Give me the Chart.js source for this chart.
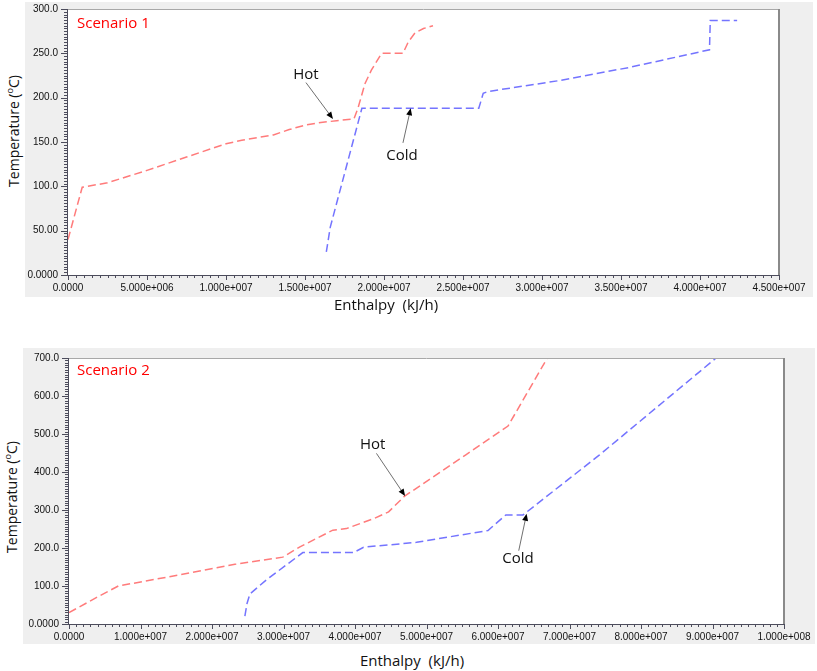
<!DOCTYPE html>
<html>
<head>
<meta charset="utf-8">
<script src="https://cdn.jsdelivr.net/npm/chart.js@4.4.1/dist/chart.umd.min.js"></script>
<style>
  body { margin: 0; background: #fff; }
  #wrap { position: relative; width: 817px; height: 671px; overflow: hidden; font-family: "Open Sans", sans-serif; }
  canvas { position: absolute; background: #efefef; }
  .xt { position: absolute; font-size: 15px; line-height: 20px; color: #111; white-space: pre; transform: translateX(-50%); }
  .yt { position: absolute; font-size: 14px; line-height: 20px; color: #111; white-space: nowrap; transform: translate(-50%, -50%) rotate(-90deg); }
  .yt sup { font-size: 9px; }
</style>
</head>
<body>
<div id="wrap">
  <canvas id="c1" width="788" height="295" style="left:25px;top:2px;width:788px;height:295px"></canvas>
  <canvas id="c2" width="792" height="296" style="left:23px;top:348px;width:792px;height:296px"></canvas>
  <div class="xt" style="left:386px;top:294px">Enthalpy  (kJ/h)</div>
  <div class="xt" style="left:412px;top:650px">Enthalpy  (kJ/h)</div>
  <div class="yt" style="left:12px;top:131px">Temperature (<sup>o</sup>C)</div>
  <div class="yt" style="left:10px;top:497px">Temperature (<sup>o</sup>C)</div>
</div>
<script>
"use strict";

// Scenario 1 - composite curves
const hot1X = [0, 0.9e6, 2.5e6, 5e6, 7.5e6, 1.0e7, 1.1e7, 1.3e7, 1.4e7, 1.5e7, 1.6e7, 1.7e7, 1.81e7, 1.835e7, 1.88e7, 1.92e7, 1.985e7, 2.12e7, 2.154e7, 2.196e7, 2.25e7, 2.31e7];
const hot1Y = [40, 99, 104, 118, 133, 148, 152, 158, 164, 169, 172, 174, 176, 188, 216, 231, 250, 250, 263, 273, 278, 281];
const cold1X = [1.635e7, 1.66e7, 1.86e7, 2.6e7, 2.628e7, 2.66e7, 3.1e7, 3.55e7, 4.06e7, 4.065e7, 4.235e7];
const cold1Y = [26, 54, 188, 188, 205, 207, 219, 234, 254, 287, 287];

// Scenario 2 - composite curves
const hot2X = [0, 3.87e6, 6.9e6, 1.36e7, 2.32e7, 2.99e7, 3.23e7, 3.69e7, 3.88e7, 4.27e7, 4.47e7, 4.69e7, 5.55e7, 6.14e7, 6.69e7];
const hot2Y = [30, 70, 100, 123, 157, 176, 203, 247, 251, 278, 295, 336, 445, 521, 700];
const cold2X = [2.46e7, 2.49e7, 2.53e7, 2.76e7, 3.27e7, 3.98e7, 4.12e7, 4.86e7, 5.86e7, 6.11e7, 6.35e7, 7.42e7, 9.05e7];
const cold2Y = [21, 54, 79, 116, 188, 188, 202, 215, 246, 287, 287, 445, 700];

// axis ticks
const xTicks1 = [0, 5e6, 1e7, 1.5e7, 2e7, 2.5e7, 3e7, 3.5e7, 4e7, 4.5e7];
const xTickLabels1 = ["0.0000", "5.000e+006", "1.000e+007", "1.500e+007", "2.000e+007", "2.500e+007", "3.000e+007", "3.500e+007", "4.000e+007", "4.500e+007"];
const yTicks1 = [0, 50, 100, 150, 200, 250, 300];
const yTickLabels1 = ["0.0000", "50.00", "100.0", "150.0", "200.0", "250.0", "300.0"];
const xTicks2 = [0, 1e7, 2e7, 3e7, 4e7, 5e7, 6e7, 7e7, 8e7, 9e7, 1e8];
const xTickLabels2 = ["0.0000", "1.000e+007", "2.000e+007", "3.000e+007", "4.000e+007", "5.000e+007", "6.000e+007", "7.000e+007", "8.000e+007", "9.000e+007", "1.000e+008"];
const yTicks2 = [0, 100, 200, 300, 400, 500, 600, 700];
const yTickLabels2 = ["0.0000", "100.0", "200.0", "300.0", "400.0", "500.0", "600.0", "700.0"];

// labels with arrows (data coordinates: text, arrow start, arrow head)
const notes1 = [
  { text: "Hot", tx: 1.506e7, ty: 226, fx: 1.506e7, fy: 217, hx: 1.677e7, hy: 176 },
  { text: "Cold", tx: 2.114e7, ty: 135, fx: 2.12e7, fy: 149, hx: 2.169e7, hy: 188 }
];
const notes2 = [
  { text: "Hot", tx: 4.248e7, ty: 473, fx: 4.30e7, fy: 449, hx: 4.70e7, hy: 337 },
  { text: "Cold", tx: 6.28e7, ty: 171, fx: 6.29e7, fy: 193, hx: 6.40e7, hy: 290 }
];

const HOT = "#ff7b7b";
const COLD = "#7474ff";

function pts(xs, ys) {
  return xs.map((x, i) => ({ x: x, y: ys[i] }));
}

// white plot area, frame, major/minor ticks, labels and arrows
const framePlugin = {
  id: "frame",
  beforeDraw(chart) {
    const a = chart.chartArea;
    const ctx = chart.ctx;
    ctx.save();
    ctx.fillStyle = "#fff";
    ctx.fillRect(a.left, a.top, a.right - a.left, a.bottom - a.top);
    ctx.restore();
  },
  afterDatasetsDraw(chart, args, o) {
    const a = chart.chartArea;
    const ctx = chart.ctx;
    const xs = chart.scales.x;
    const ys = chart.scales.y;
    ctx.save();

    // frame
    ctx.strokeStyle = "#a8a8a8";
    ctx.lineWidth = 1;
    ctx.beginPath();
    ctx.moveTo(a.left, a.top + 0.5);
    ctx.lineTo(a.right, a.top + 0.5);
    ctx.stroke();
    ctx.strokeStyle = "#8a8a8a";
    ctx.lineWidth = 2;
    ctx.beginPath();
    ctx.moveTo(a.right, a.top);
    ctx.lineTo(a.right, a.bottom);
    ctx.stroke();
    ctx.strokeStyle = "#4c4c5c";
    ctx.lineWidth = 1;
    ctx.beginPath();
    ctx.moveTo(a.left - 0.5, a.top);
    ctx.lineTo(a.left - 0.5, a.bottom + 0.5);
    ctx.lineTo(a.right + 1, a.bottom + 0.5);
    ctx.stroke();

    // x ticks
    const xn = (o.xTicks.length - 1) * o.xMinor;
    const xStep = (o.xTicks[1] - o.xTicks[0]) / o.xMinor;
    ctx.beginPath();
    for (let i = 0; i <= xn; i++) {
      const px = Math.round(xs.getPixelForValue(o.xTicks[0] + i * xStep)) + 0.5;
      const len = i % o.xMinor === 0 ? 5 : 3;
      ctx.moveTo(px, a.bottom);
      ctx.lineTo(px, a.bottom + len);
    }
    // y ticks
    const yn = (o.yTicks.length - 1) * o.yMinor;
    const yStep = (o.yTicks[1] - o.yTicks[0]) / o.yMinor;
    for (let i = 0; i <= yn; i++) {
      const py = Math.round(ys.getPixelForValue(o.yTicks[0] + i * yStep)) + 0.5;
      const len = i % o.yMinor === 0 ? 7 : 4;
      ctx.moveTo(a.left, py);
      ctx.lineTo(a.left - len, py);
    }
    ctx.stroke();

    // scenario label
    ctx.fillStyle = "#ff0000";
    ctx.font = "15px 'Open Sans'";
    ctx.textAlign = "left";
    ctx.textBaseline = "middle";
    ctx.fillText(o.title, a.left + o.titleDx, a.top + o.titleDy);

    // Hot / Cold with arrows
    o.notes.forEach(n => {
      ctx.fillStyle = "#111";
      ctx.font = "15px 'Open Sans'";
      ctx.textAlign = "center";
      ctx.fillText(n.text, xs.getPixelForValue(n.tx), ys.getPixelForValue(n.ty));
      const x0 = xs.getPixelForValue(n.fx);
      const y0 = ys.getPixelForValue(n.fy);
      const x1 = xs.getPixelForValue(n.hx);
      const y1 = ys.getPixelForValue(n.hy);
      const ang = Math.atan2(y1 - y0, x1 - x0);
      ctx.strokeStyle = "#707070";
      ctx.lineWidth = 1;
      ctx.beginPath();
      ctx.moveTo(x0, y0);
      ctx.lineTo(x1 - 5 * Math.cos(ang), y1 - 5 * Math.sin(ang));
      ctx.stroke();
      ctx.fillStyle = "#000";
      ctx.beginPath();
      ctx.moveTo(x1, y1);
      ctx.lineTo(x1 - 7 * Math.cos(ang) + 3 * Math.sin(ang), y1 - 7 * Math.sin(ang) - 3 * Math.cos(ang));
      ctx.lineTo(x1 - 7 * Math.cos(ang) - 3 * Math.sin(ang), y1 - 7 * Math.sin(ang) + 3 * Math.cos(ang));
      ctx.closePath();
      ctx.fill();
    });
    ctx.restore();
  }
};

function makeChart(id, cfg) {
  const tickFont = { family: "'Liberation Sans', Arial", size: 10 };
  return new Chart(document.getElementById(id), {
    type: "line",
    data: {
      datasets: [
        { data: pts(cfg.hotX, cfg.hotY), borderColor: HOT },
        { data: pts(cfg.coldX, cfg.coldY), borderColor: COLD }
      ]
    },
    options: {
      responsive: false,
      animation: false,
      devicePixelRatio: 1,
      layout: { padding: cfg.padding },
      elements: {
        line: { borderWidth: 1.5, borderDash: [8, 4], tension: 0, fill: false },
        point: { radius: 0 }
      },
      plugins: {
        legend: { display: false },
        tooltip: { enabled: false },
        frame: {
          xTicks: cfg.xTicks, yTicks: cfg.yTicks, xMinor: 10, yMinor: 16,
          title: cfg.title, titleDx: cfg.titleDx, titleDy: cfg.titleDy, notes: cfg.notes
        }
      },
      scales: {
        x: {
          type: "linear",
          min: cfg.xTicks[0],
          max: cfg.xTicks[cfg.xTicks.length - 1],
          afterBuildTicks: s => { s.ticks = cfg.xTicks.map(v => ({ value: v })); },
          afterFit: s => { s.height = cfg.xHeight; s.paddingLeft = 0; s.paddingRight = 0; },
          grid: { display: false, drawTicks: false },
          border: { display: false },
          ticks: { padding: 7, color: "#111", font: tickFont, maxRotation: 0, autoSkip: false, callback: (v, i) => cfg.xLabels[i] }
        },
        y: {
          min: cfg.yTicks[0],
          max: cfg.yTicks[cfg.yTicks.length - 1],
          afterBuildTicks: s => { s.ticks = cfg.yTicks.map(v => ({ value: v })); },
          afterFit: s => { s.width = cfg.yWidth; s.paddingTop = 0; s.paddingBottom = 0; },
          grid: { display: false, drawTicks: false },
          border: { display: false },
          ticks: { padding: 10, color: "#111", font: tickFont, autoSkip: false, callback: (v, i) => cfg.yLabels[i] }
        }
      }
    },
    plugins: [framePlugin]
  });
}

makeChart("c1", {
  hotX: hot1X, hotY: hot1Y, coldX: cold1X, coldY: cold1Y,
  xTicks: xTicks1, xLabels: xTickLabels1, yTicks: yTicks1, yLabels: yTickLabels1,
  padding: { top: 7, right: 34, left: 0, bottom: 0 }, xHeight: 22, yWidth: 43,
  title: "Scenario 1", titleDx: 9, titleDy: 15, notes: notes1
});

makeChart("c2", {
  hotX: hot2X, hotY: hot2Y, coldX: cold2X, coldY: cold2Y,
  xTicks: xTicks2, xLabels: xTickLabels2, yTicks: yTicks2, yLabels: yTickLabels2,
  padding: { top: 10, right: 31, left: 0, bottom: 0 }, xHeight: 20, yWidth: 46,
  title: "Scenario 2", titleDx: 8, titleDy: 13, notes: notes2
});
</script>
</body>
</html>
